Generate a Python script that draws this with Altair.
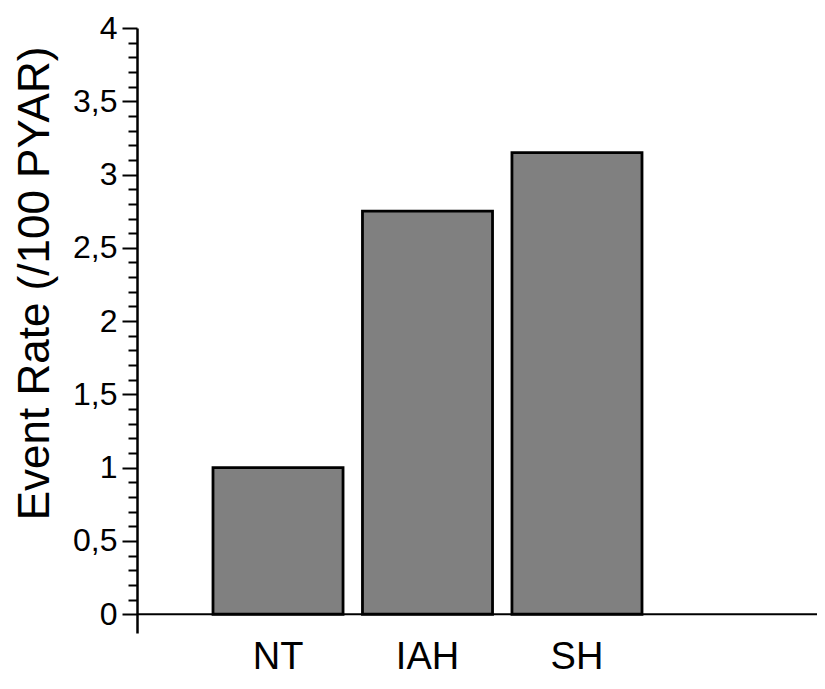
import altair as alt
import pandas as pd

# ---- data ----
categories = ["NT", "IAH", "SH"]
event_rates = [1.0, 2.75, 3.15]
major_ticks = [0, 0.5, 1, 1.5, 2, 2.5, 3, 3.5, 4]
minor_ticks = [0.1, 0.2, 0.3, 0.4, 0.6, 0.7, 0.8, 0.9,
               1.1, 1.2, 1.3, 1.4, 1.6, 1.7, 1.8, 1.9,
               2.1, 2.2, 2.3, 2.4, 2.6, 2.7, 2.8, 2.9,
               3.1, 3.2, 3.3, 3.4, 3.6, 3.7, 3.8, 3.9]
baseline = [0]
y_title = "Event Rate (/100 PYAR)"

df = pd.DataFrame({"group": categories, "rate": event_rates})
base_df = pd.DataFrame({"base": baseline})

FONT = "Liberation Sans"
y_scale = alt.Scale(domain=[-0.128, 4], nice=False, zero=False)

major_axis = alt.Axis(
    orient="left", values=major_ticks, format="~g",
    labelExpr="replace(datum.label, '.', ',')",
    labelFont=FONT, labelFontSize=32, labelColor="black", labelPadding=5,
    tickSize=15, tickWidth=2, tickColor="black",
    domainColor="black", domainWidth=2.5, grid=False,
    title=y_title, titleFont=FONT, titleFontSize=44, titleFontWeight="normal",
    titleColor="black", titleAngle=270, titleX=-102, titleY=255,
    titleAlign="center", titleBaseline="middle",
)

minor_axis = alt.Axis(
    orient="left", values=minor_ticks, labels=False, domain=False,
    tickSize=9, tickWidth=2, tickColor="black", grid=False, title=None,
)

x_axis = alt.Axis(
    title=None, domain=False, ticks=False, labelAngle=0,
    labelFont=FONT, labelFontSize=38, labelColor="black", labelPadding=5,
)

bars = alt.Chart(df).mark_bar(
    color="#808080", stroke="black", strokeWidth=2.8
).encode(
    x=alt.X("group:N", sort=categories,
            scale=alt.Scale(range=[76, 505], paddingInner=0.13, paddingOuter=0),
            axis=x_axis),
    y=alt.Y("rate:Q", scale=y_scale, axis=major_axis),
    y2=alt.datum(0),
)

rule = alt.Chart(base_df).mark_rule(color="black", strokeWidth=2).encode(
    y=alt.Y("base:Q", scale=y_scale, axis=minor_axis),
)

chart = alt.layer(bars, rule).resolve_scale(y="independent").resolve_axis(
    y="independent"
).properties(
    width=680, height=605,
    padding={"left": 129, "top": 20, "right": 0, "bottom": 43},
    autosize=alt.AutoSizeParams(type="none"),
    background="white",
).configure_view(stroke=None)

chart.save("out.html", embed_options={"renderer": "svg", "actions": False})
